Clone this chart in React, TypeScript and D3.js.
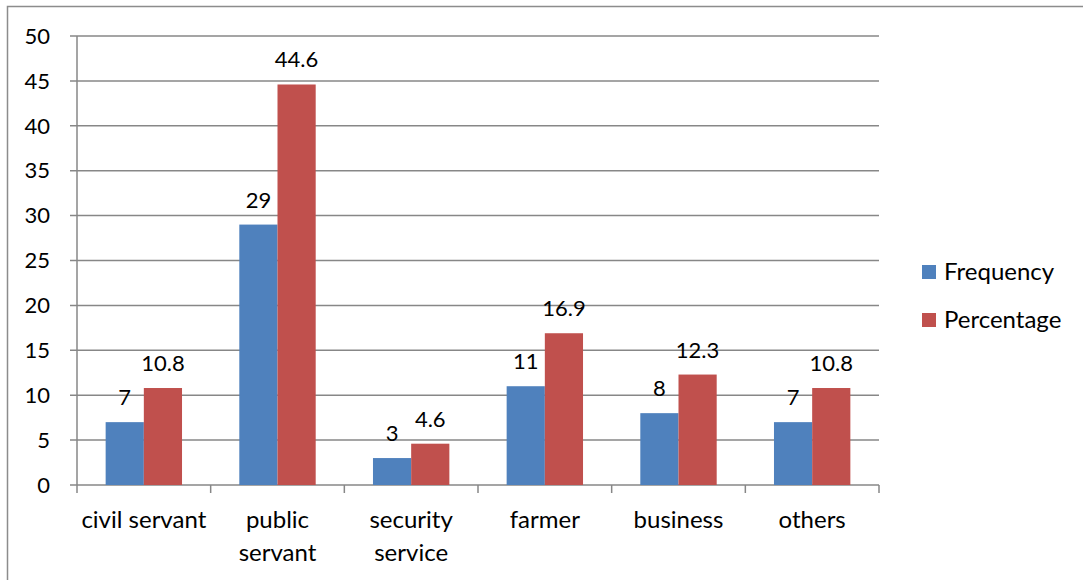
import React, { useEffect, useRef } from "react";
import * as d3 from "d3";

const categories = ["civil servant", "public servant", "security service", "farmer", "business", "others"];
const categoryLines = [["civil servant"], ["public", "servant"], ["security", "service"], ["farmer"], ["business"], ["others"]];
const seriesNames = ["Frequency", "Percentage"];
const frequency = [7, 29, 3, 11, 8, 7];
const percentage = [10.8, 44.6, 4.6, 16.9, 12.3, 10.8];
const yTicks = [0, 5, 10, 15, 20, 25, 30, 35, 40, 45, 50];
const colors = ["#4F81BD", "#C0504D"];

const W = 1083;
const H = 580;
const FONT = "Lato, 'Open Sans', sans-serif";
const FS = 24;

export default function App() {
  const ref = useRef<SVGSVGElement | null>(null);

  useEffect(() => {
    const svg = d3.select(ref.current);
    svg.selectAll("*").remove();

    const left = 77, right = 879, top = 36, bottom = 485;
    const x = d3.scaleBand<string>().domain(categories).range([left, right]).paddingInner(0).paddingOuter(0);
    const y = d3.scaleLinear().domain([0, 50]).range([bottom, top]);
    const groupW = x.bandwidth() / 3.5 * 2;
    const x1 = d3.scaleBand<string>().domain(seriesNames).range([0, groupW]).padding(0);

    // outer frame
    svg.append("rect")
      .attr("x", 7.5).attr("y", 6.5).attr("width", W + 10).attr("height", H + 10)
      .attr("fill", "none").attr("stroke", "#8c8c8c").attr("stroke-width", 1.5);

    // gridlines
    svg.append("g").selectAll("line").data(yTicks).join("line")
      .attr("x1", left - 7).attr("x2", right)
      .attr("y1", d => y(d)).attr("y2", d => y(d))
      .attr("stroke", "#878787").attr("stroke-width", 1.5);

    // y tick labels
    svg.append("g").selectAll("text").data(yTicks).join("text")
      .attr("x", 50).attr("y", d => y(d)).attr("dy", "0.35em")
      .attr("text-anchor", "end")
      .attr("font-family", FONT).attr("font-size", FS - 2).attr("fill", "#000")
      .text(d => d);

    // y axis line
    svg.append("line").attr("x1", left).attr("x2", left).attr("y1", top).attr("y2", bottom)
      .attr("stroke", "#878787").attr("stroke-width", 1.5);

    // x category ticks
    const tickXs = categories.map(c => x(c)!).concat([right]);
    svg.append("g").selectAll("line").data(tickXs).join("line")
      .attr("x1", d => d).attr("x2", d => d).attr("y1", bottom).attr("y2", bottom + 8)
      .attr("stroke", "#878787").attr("stroke-width", 1.5);

    const series = [frequency, percentage];
    series.forEach((vals, si) => {
      const g = svg.append("g");
      g.selectAll("rect").data(vals).join("rect")
        .attr("x", (d, i) => x(categories[i])! + (x.bandwidth() - groupW) / 2 + x1(seriesNames[si])!)
        .attr("width", x1.bandwidth())
        .attr("y", d => y(d))
        .attr("height", d => y(0) - y(d))
        .attr("fill", colors[si]);
      g.selectAll("text").data(vals).join("text")
        .attr("x", (d, i) => x(categories[i])! + (x.bandwidth() - groupW) / 2 + x1(seriesNames[si])! + x1.bandwidth() / 2)
        .attr("y", d => y(d) - 17)
        .attr("text-anchor", "middle")
        .attr("font-family", FONT).attr("font-size", FS - 2).attr("fill", "#000")
        .text(d => d);
    });

    // x labels
    svg.append("g").selectAll("text").data(categoryLines).join("text")
      .attr("x", (d, i) => x(categories[i])! + x.bandwidth() / 2)
      .attr("y", 528)
      .attr("text-anchor", "middle")
      .attr("font-family", FONT).attr("font-size", FS).attr("fill", "#000")
      .each(function (lines) {
        const t = d3.select(this);
        lines.forEach((ln, k) => {
          t.append("tspan").attr("x", t.attr("x")).attr("dy", k === 0 ? 0 : 33).text(ln);
        });
      });

    // legend
    const lg = svg.append("g");
    seriesNames.forEach((name, i) => {
      const cy = 272 + i * 48;
      lg.append("rect").attr("x", 922).attr("y", cy - 7).attr("width", 14).attr("height", 14).attr("fill", colors[i]);
      lg.append("text").attr("x", 944).attr("y", cy).attr("dy", "0.35em")
        .attr("font-family", FONT).attr("font-size", FS).attr("fill", "#000").text(name);
    });
  }, []);

  return (
    <svg ref={ref} width={W} height={H}
      style={{ position: "absolute", left: 0, top: 0, background: "#fff" }} />
  );
}
